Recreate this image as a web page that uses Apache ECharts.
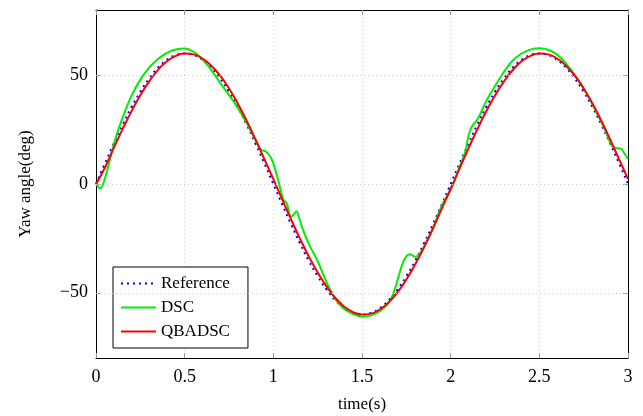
<!DOCTYPE html>
<html>
<head>
<meta charset="utf-8">
<script src="https://cdn.jsdelivr.net/npm/echarts@6/dist/echarts.min.js"></script>
<style>
html,body{margin:0;padding:0;background:#fff;}
#chart{width:643px;height:416px;}
</style>
</head>
<body>
<div id="chart"></div>
<script>
// ---- data ----
const timeRef = [0,0.05,0.1,0.15,0.2,0.25,0.3,0.35,0.4,0.45,0.5,0.55,0.6,0.65,0.7,0.75,0.8,0.85,0.9,0.95,
  1,1.05,1.1,1.15,1.2,1.25,1.3,1.35,1.4,1.45,1.5,1.55,1.6,1.65,1.7,1.75,1.8,1.85,1.9,1.95,
  2,2.05,2.1,2.15,2.2,2.25,2.3,2.35,2.4,2.45,2.5,2.55,2.6,2.65,2.7,2.75,2.8,2.85,2.9,2.95,3];
const refValues = [0,9.4,18.5,27.2,35.3,42.4,48.5,53.5,57.1,59.3,60,59.3,57.1,53.5,48.5,42.4,35.3,27.2,18.5,9.4,
  0,-9.4,-18.5,-27.2,-35.3,-42.4,-48.5,-53.5,-57.1,-59.3,-60,-59.3,-57.1,-53.5,-48.5,-42.4,-35.3,-27.2,-18.5,-9.4,
  0,9.4,18.5,27.2,35.3,42.4,48.5,53.5,57.1,59.3,60,59.3,57.1,53.5,48.5,42.4,35.3,27.2,18.5,9.4,0];
const qbadscValues = [0,7.5,16.5,25.2,33.4,40.8,47.2,52.5,56.4,58.9,60,59.6,57.7,54.4,49.8,43.9,36.9,29.0,20.4,11.3,
  2.3,-7.1,-16.3,-25.1,-33.3,-40.7,-47.1,-52.4,-56.4,-58.9,-60,-59.6,-57.7,-54.4,-49.8,-43.9,-36.9,-29.0,-20.4,-11.3,
  -2.3,7.1,16.3,25.1,33.3,40.7,47.1,52.4,56.4,58.9,60,59.6,57.7,54.4,49.8,43.9,36.9,29.0,20.4,11.3,2.3];
const dscTime = [0,0.012,0.023,0.035,0.05,0.07,0.09,0.11,0.15,0.2,0.25,0.3,0.35,0.4,0.45,0.5,0.55,0.6,0.65,0.7,
  0.75,0.8,0.85,0.9,0.93,0.96,0.99,1.02,1.045,1.058,1.075,1.1,1.115,1.13,1.145,1.165,1.2,1.25,1.3,1.35,
  1.4,1.45,1.5,1.55,1.6,1.63,1.66,1.69,1.715,1.74,1.77,1.8,1.83,1.86,1.9,1.95,2.0,2.02,2.05,2.08,
  2.1,2.12,2.15,2.2,2.25,2.3,2.35,2.4,2.45,2.5,2.55,2.6,2.65,2.7,2.75,2.8,2.85,2.88,2.91,2.93,
  2.96,2.98,3.0];
const dscValues = [0,-1.2,-2.0,-1,2.5,8.5,15,21,30.5,40.5,48,53.5,57.5,60.3,61.8,62.3,60.8,57.3,52.5,46.5,
  41,35,28,20,15.8,14.8,11.5,4,-4,-7.5,-8.8,-15,-14,-12.5,-15.5,-20.5,-27.5,-35.5,-45,-53,
  -57.5,-59.8,-61,-60.5,-58.5,-56.5,-53.5,-47,-40,-34.5,-32.3,-33.5,-31.5,-27.5,-20.5,-10,-2.5,1,8,14,
  22,26.5,29.5,38,45,51.5,56.8,60,61.8,62.4,61.7,59.5,55.5,50,44,36.5,28.5,23,17.5,16.6,
  16.3,14,11.5];
const xTicks = [0,0.5,1,1.5,2,2.5,3];
const yTicks = [-50,0,50];
const seriesNames = ['Reference','DSC','QBADSC'];
const xLabel = 'time(s)';
const yLabel = 'Yaw angle(deg)';

// ---- chart ----
const zip = (a,b) => a.map((t,i)=>[t,b[i]]);
const FONT = 'Liberation Serif';
const tickStyle = {show:true, inside:true, length:5, lineStyle:{color:'#999', width:1}};
const chart = echarts.init(document.getElementById('chart'), null, {renderer:'canvas'});
const fmtY = v => v < 0 ? '\u2212' + Math.abs(v) : String(v);

chart.setOption({
  backgroundColor:'#fff',
  animation:false,
  grid:{left:96, right:15, top:10, bottom:58, containLabel:false, outerBoundsMode:'none'},
  legend:{
    data:seriesNames, orient:'vertical', left:113, top:267,
    backgroundColor:'#fff', borderColor:'#000', borderWidth:1, borderRadius:0,
    padding:[8,18,8,7], itemGap:7, itemWidth:35, itemHeight:14,
    itemStyle:{opacity:0},
    textStyle:{fontFamily:FONT, fontSize:17, color:'#000'}
  },
  xAxis:[
    {type:'value', min:0, max:3, interval:0.5, position:'bottom',
     name:xLabel, nameLocation:'middle', nameGap:38,
     nameTextStyle:{fontFamily:FONT, fontSize:17, color:'#000'},
     axisLine:{show:true, onZero:false, lineStyle:{color:'#000', width:1}},
     axisTick:tickStyle,
     axisLabel:{fontFamily:FONT, fontSize:18, color:'#000', margin:10},
     splitLine:{show:true, lineStyle:{color:'#cfcfcf', type:[1,3], width:1}}},
    {type:'value', min:0, max:3, interval:0.5, position:'top',
     axisLine:{show:true, onZero:false, lineStyle:{color:'#000', width:1}},
     axisTick:tickStyle, axisLabel:{show:false}, splitLine:{show:false}}
  ],
  yAxis:[
    {type:'value', min:-80, max:80, position:'left',
     name:yLabel, nameLocation:'middle', nameGap:62,
     nameTextStyle:{fontFamily:FONT, fontSize:17, color:'#000'},
     axisLine:{show:true, onZero:false, lineStyle:{color:'#000', width:1}},
     axisTick:Object.assign({}, tickStyle, {customValues:yTicks}),
     axisLabel:{fontFamily:FONT, fontSize:18, color:'#000', margin:8, customValues:yTicks, formatter:fmtY},
     splitLine:{show:false}},
    {type:'value', min:-80, max:80, position:'right',
     axisLine:{show:true, onZero:false, lineStyle:{color:'#000', width:1}},
     axisTick:Object.assign({}, tickStyle, {customValues:yTicks}),
     axisLabel:{show:false}, splitLine:{show:false}}
  ],
  series:[
    {name:'grid-h', type:'line', data:[], z:0, silent:true,
     markLine:{silent:true, symbol:'none', label:{show:false},
       lineStyle:{color:'#cfcfcf', type:[1,3], width:1},
       data:yTicks.map(v=>({yAxis:v}))}},
    {name:seriesNames[0], type:'line', data:zip(timeRef, refValues), smooth:true, symbol:'none', z:2,
     lineStyle:{color:'#0000ff', width:2, type:[2,4]}, itemStyle:{color:'#0000ff'}},
    {name:seriesNames[1], type:'line', data:zip(dscTime, dscValues), smooth:0.35, symbol:'none', z:3,
     lineStyle:{color:'#00ee00', width:2}, itemStyle:{color:'#00ee00'}},
    {name:seriesNames[2], type:'line', data:zip(timeRef, qbadscValues), smooth:true, symbol:'none', z:4,
     lineStyle:{color:'#ff0000', width:2}, itemStyle:{color:'#ff0000'}}
  ]
});
</script>
</body>
</html>
